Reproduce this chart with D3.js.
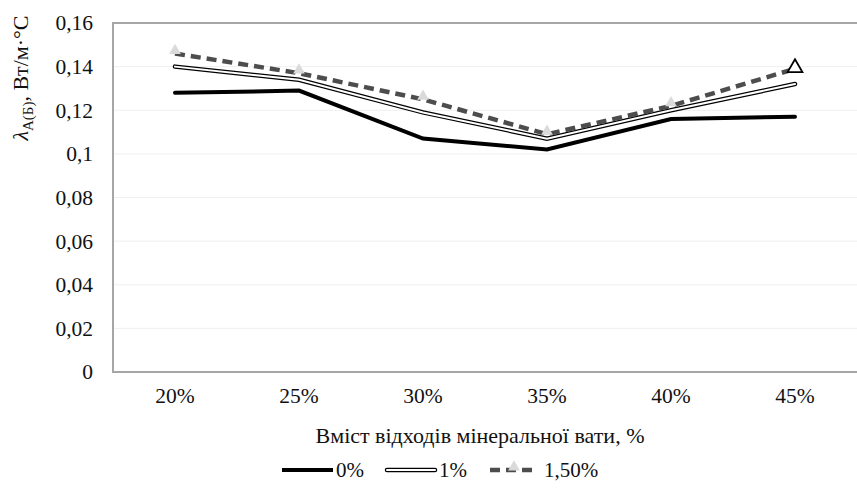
<!DOCTYPE html>
<html>
<head>
<meta charset="utf-8">
<script src="https://cdn.jsdelivr.net/npm/d3@7"></script>
</head>
<body style="margin:0; background:#fff">
<div class="chart"></div>
<script>
// Data
var categories = ["20%", "25%", "30%", "35%", "40%", "45%"];
var series0 = [0.128, 0.129, 0.107, 0.102, 0.116, 0.117];
var series1 = [0.140, 0.134, 0.119, 0.107, 0.120, 0.132];
var series15 = [0.146, 0.137, 0.125, 0.109, 0.122, 0.139];
var yTicks = [0, 0.02, 0.04, 0.06, 0.08, 0.1, 0.12, 0.14, 0.16];

var FONT = "Liberation Serif";
var svgWidth = 857;
var svgHeight = 490;
var margin = { top: 23, bottom: 118, left: 113, right: 0 };
var width = svgWidth - margin.left - margin.right;
var height = svgHeight - margin.top - margin.bottom;

var svg = d3.select(".chart")
            .append("svg")
            .attr("width", svgWidth)
            .attr("height", svgHeight);

var chartGroup = svg.append("g")
                    .attr("transform", `translate(${margin.left}, ${margin.top})`);

var xScale = d3.scaleBand().domain(categories).range([0, width]);
var yScale = d3.scaleLinear().domain([0, 0.16]).range([height, 0]);
var fmt = d => d === 0 ? "0" : String(+d.toFixed(2)).replace(".", ",");

// Gridlines
chartGroup.selectAll(".grid")
          .data(yTicks.slice(1, -1))
          .enter()
          .append("line")
          .attr("x1", 0).attr("x2", width)
          .attr("y1", d => yScale(d)).attr("y2", d => yScale(d))
          .attr("stroke", "#efefef").attr("stroke-width", 1);

// Frame (left, top, bottom)
chartGroup.append("path")
          .attr("d", `M${width},0H0V${height}H${width}`)
          .attr("fill", "none").attr("stroke", "#a6a6a6").attr("stroke-width", 2);

// Axes
var leftAxis = d3.axisLeft(yScale).tickValues(yTicks).tickFormat(fmt).tickSize(0).tickPadding(20);
var yAxisG = chartGroup.append("g").call(leftAxis);
yAxisG.select(".domain").remove();

var bottomAxis = d3.axisBottom(xScale).tickSize(0).tickPadding(16);
var xAxisG = chartGroup.append("g").attr("transform", `translate(0, ${height})`).call(bottomAxis);
xAxisG.select(".domain").remove();

var line = d3.line()
             .x((d, i) => xScale(categories[i]) + xScale.bandwidth() / 2)
             .y(d => yScale(d));

// 0% series
chartGroup.append("path").attr("d", line(series0))
          .attr("fill", "none").attr("stroke", "#000").attr("stroke-width", 4)
          .attr("stroke-linecap", "round");

// 1% series (double line)
chartGroup.append("path").attr("d", line(series1))
          .attr("fill", "none").attr("stroke", "#000").attr("stroke-width", 4.5)
          .attr("stroke-linecap", "round");
chartGroup.append("path").attr("d", line(series1))
          .attr("fill", "none").attr("stroke", "#fff").attr("stroke-width", 2)
          .attr("stroke-linecap", "round");

// 1.5% series (dashed)
chartGroup.append("path").attr("d", line(series15))
          .attr("fill", "none").attr("stroke", "#4d4d4d").attr("stroke-width", 4.5)
          .attr("stroke-dasharray", "10,6");

// Triangle markers (last one outlined)
var last = series15.length - 1;
var tri = d3.symbol().type(d3.symbolTriangle).size(60);
var triBig = d3.symbol().type(d3.symbolTriangle).size(95);
chartGroup.selectAll(".mk")
          .data(series15)
          .enter()
          .append("path")
          .attr("d", (d, i) => i === last ? triBig() : tri())
          .attr("transform", (d, i) => `translate(${xScale(categories[i]) + xScale.bandwidth() / 2}, ${yScale(d) - (i === last ? 1 : 3)})`)
          .attr("fill", (d, i) => i === last ? "#fff" : "#dadada")
          .attr("stroke", (d, i) => i === last ? "#000" : "none")
          .attr("stroke-width", 1.8);

// Axis titles
svg.append("text")
   .attr("x", margin.left + width / 2 - 5).attr("y", 443)
   .attr("text-anchor", "middle")
   .attr("font-size", 22)
   .text("Вміст відходів мінеральної вати, %");

var yTitle = svg.append("text")
   .attr("transform", "translate(28, 78) rotate(-90)")
   .attr("text-anchor", "middle")
   .attr("font-size", 22);
yTitle.append("tspan").attr("font-style", "italic").text("λ");
yTitle.append("tspan").attr("dy", 5).attr("font-size", 15).text("A(Б)");
yTitle.append("tspan").attr("dy", -5).text(", Вт/м·°С");

// Legend
var legend = svg.append("g").attr("transform", "translate(0, 470)");
legend.append("line").attr("x1", 282).attr("x2", 333).attr("y1", 0).attr("y2", 0)
      .attr("stroke", "#000").attr("stroke-width", 4);
legend.append("text").attr("x", 336).attr("y", 7).text("0%");

legend.append("line").attr("x1", 387).attr("x2", 435).attr("y1", 0).attr("y2", 0)
      .attr("stroke", "#000").attr("stroke-width", 4.5).attr("stroke-linecap", "round");
legend.append("line").attr("x1", 387).attr("x2", 435).attr("y1", 0).attr("y2", 0)
      .attr("stroke", "#fff").attr("stroke-width", 2).attr("stroke-linecap", "round");
legend.append("text").attr("x", 439).attr("y", 7).text("1%");

legend.append("line").attr("x1", 490).attr("x2", 536).attr("y1", 0).attr("y2", 0)
      .attr("stroke", "#4d4d4d").attr("stroke-width", 4.5).attr("stroke-dasharray", "10,6");
legend.append("path").attr("d", tri).attr("transform", "translate(514, -3)")
      .attr("fill", "#dadada");
legend.append("text").attr("x", 544).attr("y", 7).text("1,50%");
legend.selectAll("text").attr("font-size", 21);

// Font on every text element directly
svg.selectAll("text")
   .attr("font-family", FONT)
   .attr("fill", "#111");
svg.selectAll(".tick text").attr("font-size", 21.5);
</script>
</body>
</html>
